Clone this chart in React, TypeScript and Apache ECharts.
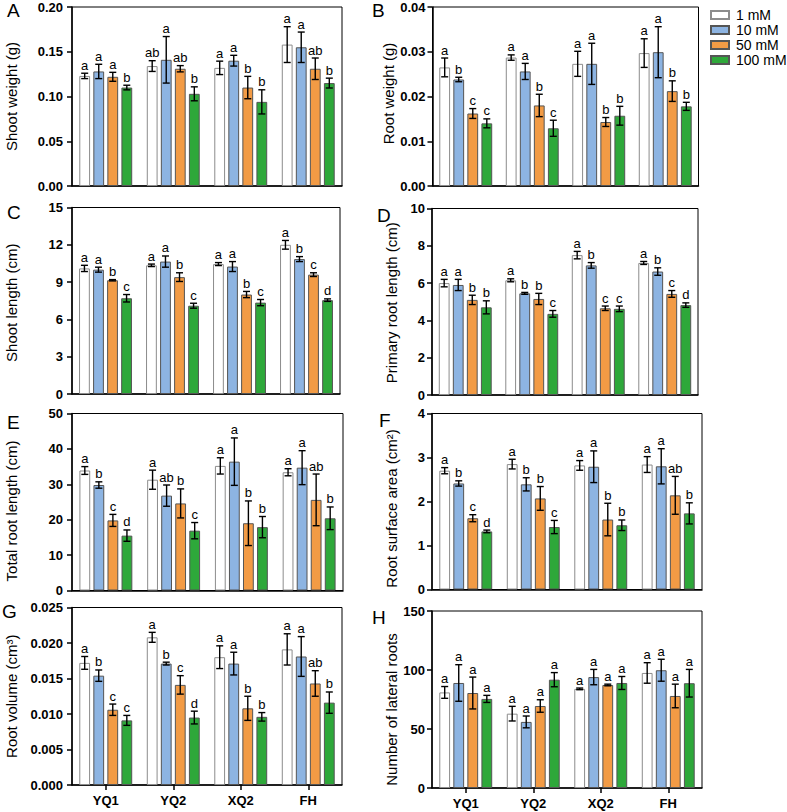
import React, { useEffect, useRef } from "react";
import * as echarts from "echarts";

const FONT = "'Liberation Sans', Arial, Helvetica, sans-serif";

const genotypes = ["YQ1", "YQ2", "XQ2", "FH"];
const treatments = ["1 mM", "10 mM", "50 mM", "100 mM"];
const treatmentColors = ["#ffffff", "#8db4e2", "#f29b45", "#2ea83a"];
const treatmentBorders = ["#8c8c8c", "#555555", "#555555", "#555555"];

// Each table: one row per treatment (1, 10, 50, 100 mM), one column per genotype.
const shootWeight = [
  [0.123, 0.134, 0.132, 0.158],
  [0.128, 0.141, 0.14, 0.155],
  [0.122, 0.131, 0.11, 0.131],
  [0.11, 0.103, 0.094, 0.115],
];
const shootWeightSd = [
  [0.003, 0.006, 0.0075, 0.02],
  [0.008, 0.026, 0.006, 0.017],
  [0.005, 0.0035, 0.0125, 0.012],
  [0.0026, 0.0078, 0.0135, 0.0055],
];
const shootWeightSig = [
  ["a", "ab", "a", "a"],
  ["a", "a", "a", "a"],
  ["a", "ab", "b", "ab"],
  ["b", "b", "b", "b"],
];

const rootWeight = [
  [0.0265, 0.0287, 0.0273, 0.0297],
  [0.0238, 0.0256, 0.0273, 0.0299],
  [0.0162, 0.018, 0.0143, 0.0212],
  [0.014, 0.0129, 0.0157, 0.0178],
];
const rootWeightSd = [
  [0.0021, 0.0006, 0.0028, 0.0032],
  [0.0005, 0.0018, 0.0046, 0.0057],
  [0.0011, 0.0025, 0.001, 0.0023],
  [0.001, 0.0018, 0.0021, 0.0009],
];
const rootWeightSig = [
  ["a", "a", "a", "a"],
  ["b", "a", "a", "a"],
  ["c", "b", "b", "b"],
  ["c", "c", "b", "b"],
];

const shootLength = [
  [10.1, 10.35, 10.45, 12.0],
  [10.0, 10.65, 10.25, 10.85],
  [9.15, 9.4, 8.0, 9.6],
  [7.7, 7.1, 7.35, 7.55],
];
const shootLengthSd = [
  [0.25, 0.1, 0.12, 0.35],
  [0.2, 0.45, 0.4, 0.2],
  [0.05, 0.35, 0.25, 0.15],
  [0.3, 0.2, 0.25, 0.1],
];
const shootLengthSig = [
  ["a", "a", "a", "a"],
  ["a", "a", "a", "b"],
  ["b", "b", "b", "c"],
  ["c", "c", "c", "d"],
];

const primaryRootLength = [
  [6.0, 6.15, 7.5, 7.08],
  [5.9, 5.45, 6.95, 6.62],
  [5.1, 5.15, 4.65, 5.42],
  [4.7, 4.35, 4.62, 4.82],
];
const primaryRootLengthSd = [
  [0.2, 0.08, 0.2, 0.08],
  [0.3, 0.05, 0.15, 0.2],
  [0.25, 0.3, 0.12, 0.18],
  [0.35, 0.18, 0.15, 0.12],
];
const primaryRootLengthSig = [
  ["a", "a", "a", "a"],
  ["a", "b", "b", "b"],
  ["b", "b", "c", "c"],
  ["b", "c", "c", "d"],
];

const totalRootLength = [
  [33.9, 31.3, 35.2, 33.4],
  [29.8, 26.8, 36.4, 34.7],
  [19.8, 24.6, 19.0, 25.6],
  [15.5, 16.9, 17.9, 20.4],
];
const totalRootLengthSd = [
  [1.1, 2.7, 2.3, 1.0],
  [0.9, 3.0, 6.7, 4.8],
  [1.7, 4.1, 6.3, 7.3],
  [1.6, 2.3, 3.0, 3.2],
];
const totalRootLengthSig = [
  ["a", "a", "a", "a"],
  ["b", "ab", "a", "a"],
  ["c", "b", "b", "ab"],
  ["d", "c", "b", "b"],
];

const rootSurfaceArea = [
  [2.7, 2.85, 2.82, 2.84],
  [2.41, 2.39, 2.79, 2.8],
  [1.62, 2.07, 1.59, 2.14],
  [1.32, 1.42, 1.46, 1.73],
];
const rootSurfaceAreaSd = [
  [0.07, 0.11, 0.11, 0.18],
  [0.06, 0.15, 0.36, 0.4],
  [0.08, 0.27, 0.37, 0.43],
  [0.03, 0.15, 0.12, 0.24],
];
const rootSurfaceAreaSig = [
  ["a", "a", "a", "a"],
  ["b", "b", "a", "a"],
  ["c", "b", "b", "ab"],
  ["d", "c", "b", "b"],
];

const rootVolume = [
  [0.0172, 0.0208, 0.018, 0.0191],
  [0.0154, 0.0171, 0.0171, 0.0181],
  [0.0106, 0.0141, 0.0108, 0.0143],
  [0.0091, 0.0095, 0.0096, 0.0116],
];
const rootVolumeSd = [
  [0.0009, 0.0007, 0.0016, 0.0022],
  [0.0008, 0.0002, 0.0016, 0.0028],
  [0.0008, 0.0013, 0.0017, 0.0018],
  [0.0007, 0.0009, 0.0006, 0.0015],
];
const rootVolumeSig = [
  ["a", "a", "a", "a"],
  ["b", "b", "a", "a"],
  ["c", "c", "b", "ab"],
  ["c", "d", "b", "b"],
];

const lateralRoots = [
  [81, 63, 84, 97.5],
  [89, 56, 94, 99.8],
  [80.5, 69.5, 87.3, 78],
  [75.5, 91.8, 89, 88.8],
];
const lateralRootsSd = [
  [5, 6.2, 0.7, 8.7],
  [15.5, 5, 6.5, 9.3],
  [13.5, 5.3, 0.7, 10],
  [3, 6, 5.5, 11.7],
];
const lateralRootsSig = [
  ["a", "a", "a", "a"],
  ["a", "a", "a", "a"],
  ["a", "a", "a", "a"],
  ["a", "a", "a", "a"],
];

const panels = [
  { tag: "A", name: "Shoot weight (g)", mean: shootWeight, sd: shootWeightSd, sig: shootWeightSig, max: 0.2, interval: 0.05, decimals: 2 },
  { tag: "B", name: "Root weight (g)", mean: rootWeight, sd: rootWeightSd, sig: rootWeightSig, max: 0.04, interval: 0.01, decimals: 2 },
  { tag: "C", name: "Shoot length (cm)", mean: shootLength, sd: shootLengthSd, sig: shootLengthSig, max: 15, interval: 3, decimals: 0 },
  { tag: "D", name: "Primary root length (cm)", mean: primaryRootLength, sd: primaryRootLengthSd, sig: primaryRootLengthSig, max: 10, interval: 2, decimals: 0 },
  { tag: "E", name: "Total root length (cm)", mean: totalRootLength, sd: totalRootLengthSd, sig: totalRootLengthSig, max: 50, interval: 10, decimals: 0 },
  { tag: "F", name: "Root surface area (cm²)", mean: rootSurfaceArea, sd: rootSurfaceAreaSd, sig: rootSurfaceAreaSig, max: 4, interval: 1, decimals: 0 },
  { tag: "G", name: "Root volume (cm³)", mean: rootVolume, sd: rootVolumeSd, sig: rootVolumeSig, max: 0.025, interval: 0.005, decimals: 3 },
  { tag: "H", name: "Number of lateral roots", mean: lateralRoots, sd: lateralRootsSd, sig: lateralRootsSig, max: 150, interval: 50, decimals: 0 },
];

// Plot rectangles, panel-letter anchors and axis-title nudges, in pixels.
const gridBoxes = [
  { left: 72, top: 7, width: 270, height: 179 },
  { left: 432.5, top: 7, width: 266, height: 179 },
  { left: 72, top: 207.5, width: 268, height: 186.5 },
  { left: 432, top: 208.5, width: 266, height: 186.5 },
  { left: 72, top: 413.5, width: 271, height: 177 },
  { left: 432, top: 413.5, width: 270, height: 176 },
  { left: 72, top: 607.5, width: 270, height: 177.5 },
  { left: 432, top: 611, width: 270, height: 177 },
];
const tagPositions = [
  [7, 1],
  [372, 1],
  [7, 203],
  [377, 206],
  [7, 413],
  [379, 411],
  [2, 602],
  [372, 608],
];
const nameShiftDown = [0, -3, 2, 1, 9, 7, 0, 10];

const BAR_WIDTH = 10.8;
const BAR_GAP = 0.3;
const barStep = BAR_WIDTH * (1 + BAR_GAP);
const barOffset = (t: number) => (t - (treatments.length - 1) / 2) * barStep;

function buildOption() {
  const grid = gridBoxes.map((g) => ({
    ...g,
    show: true,
    borderColor: "#000",
    borderWidth: 1,
    backgroundColor: "transparent",
  }));

  const xAxis = panels.map((p, i) => ({
    type: "category",
    gridIndex: i,
    data: genotypes,
    axisLine: { lineStyle: { color: "#000", width: 1.5 } },
    axisTick: { show: i >= 6, alignWithLabel: true, length: 5, lineStyle: { color: "#000", width: 1.5 } },
    axisLabel: { show: i >= 6, color: "#000", fontSize: 13, fontWeight: "bold", fontFamily: FONT, margin: 9 },
  }));

  const yAxis = panels.map((p, i) => {
    const s = nameShiftDown[i];
    // text runs bottom-to-top, so extra padding on its trailing side moves it down the page
    const namePadding = s >= 0 ? [0, 2 * s, 0, 0] : [0, 0, 0, -2 * s];
    return {
      type: "value",
      gridIndex: i,
      min: 0,
      max: p.max,
      interval: p.interval,
      name: p.name,
      nameLocation: "middle",
      nameRotate: 90,
      nameGap: i % 2 === 0 ? 53 : 33,
      nameTextStyle: { color: "#000", fontSize: 15, fontFamily: FONT, padding: namePadding },
      axisLine: { show: true, lineStyle: { color: "#000", width: 1.5 } },
      axisTick: { show: true, length: 5, lineStyle: { color: "#000", width: 1.5 } },
      axisLabel: {
        color: "#000",
        fontSize: 13,
        fontWeight: "bold",
        fontFamily: FONT,
        margin: i % 2 === 0 ? 9 : 7,
        formatter: (v: number) => v.toFixed(p.decimals),
      },
      splitLine: { show: false },
    };
  });

  const series: any[] = [];
  panels.forEach((p, i) => {
    treatments.forEach((tr, t) => {
      series.push({
        type: "bar",
        name: tr,
        xAxisIndex: i,
        yAxisIndex: i,
        data: p.mean[t],
        barWidth: BAR_WIDTH,
        barGap: `${BAR_GAP * 100}%`,
        itemStyle: { color: treatmentColors[t], borderColor: treatmentBorders[t], borderWidth: 1 },
        silent: true,
      });
    });

    // mean ± SD whiskers with the significance letters above them
    const recs: { cat: number; t: number; hi: number; lo: number; sig: string }[] = [];
    treatments.forEach((_, t) => {
      genotypes.forEach((__, c) => {
        recs.push({ cat: c, t, hi: p.mean[t][c] + p.sd[t][c], lo: p.mean[t][c] - p.sd[t][c], sig: p.sig[t][c] });
      });
    });
    series.push({
      type: "custom",
      xAxisIndex: i,
      yAxisIndex: i,
      silent: true,
      z: 5,
      data: recs.map((r) => [r.cat, r.hi, r.lo]),
      encode: { x: 0, y: [1, 2] },
      renderItem: (params: any, api: any) => {
        const r = recs[params.dataIndex];
        const top = api.coord([r.cat, r.hi]);
        const bot = api.coord([r.cat, r.lo]);
        const x = top[0] + barOffset(r.t);
        const cap = 3.5;
        const ls = { stroke: "#000", lineWidth: 1.4 };
        return {
          type: "group",
          children: [
            { type: "line", shape: { x1: x, y1: top[1], x2: x, y2: bot[1] }, style: ls },
            { type: "line", shape: { x1: x - cap, y1: top[1], x2: x + cap, y2: top[1] }, style: ls },
            { type: "line", shape: { x1: x - cap, y1: bot[1], x2: x + cap, y2: bot[1] }, style: ls },
            {
              type: "text",
              x,
              y: top[1] - 1.5,
              style: {
                text: r.sig,
                fill: "#000",
                fontSize: 13,
                fontFamily: FONT,
                align: "center",
                verticalAlign: "bottom",
              },
            },
          ],
        };
      },
    });
  });

  const title = panels.map((p, i) => ({
    text: p.tag,
    left: tagPositions[i][0],
    top: tagPositions[i][1],
    padding: 0,
    textStyle: { color: "#000", fontSize: 19, fontWeight: "normal", fontFamily: FONT },
  }));

  return {
    animation: false,
    backgroundColor: "#fff",
    title,
    legend: {
      data: treatments,
      orient: "vertical",
      left: 710,
      top: 8,
      itemWidth: 18,
      itemHeight: 8,
      itemGap: 1,
      icon: "rect",
      selectedMode: false,
      padding: 0,
      textStyle: { color: "#000", fontSize: 14, fontFamily: FONT, padding: [0, 0, 0, 2] },
    },
    grid,
    xAxis,
    yAxis,
    series,
  };
}

export default function App() {
  const ref = useRef<HTMLDivElement>(null);
  useEffect(() => {
    if (!ref.current) return;
    const chart = echarts.init(ref.current, undefined, { renderer: "svg" });
    chart.setOption(buildOption() as any);
    return () => chart.dispose();
  }, []);
  return (
    <div
      ref={ref}
      style={{ position: "absolute", left: 0, top: 0, width: 787, height: 812, background: "#fff" }}
    />
  );
}
